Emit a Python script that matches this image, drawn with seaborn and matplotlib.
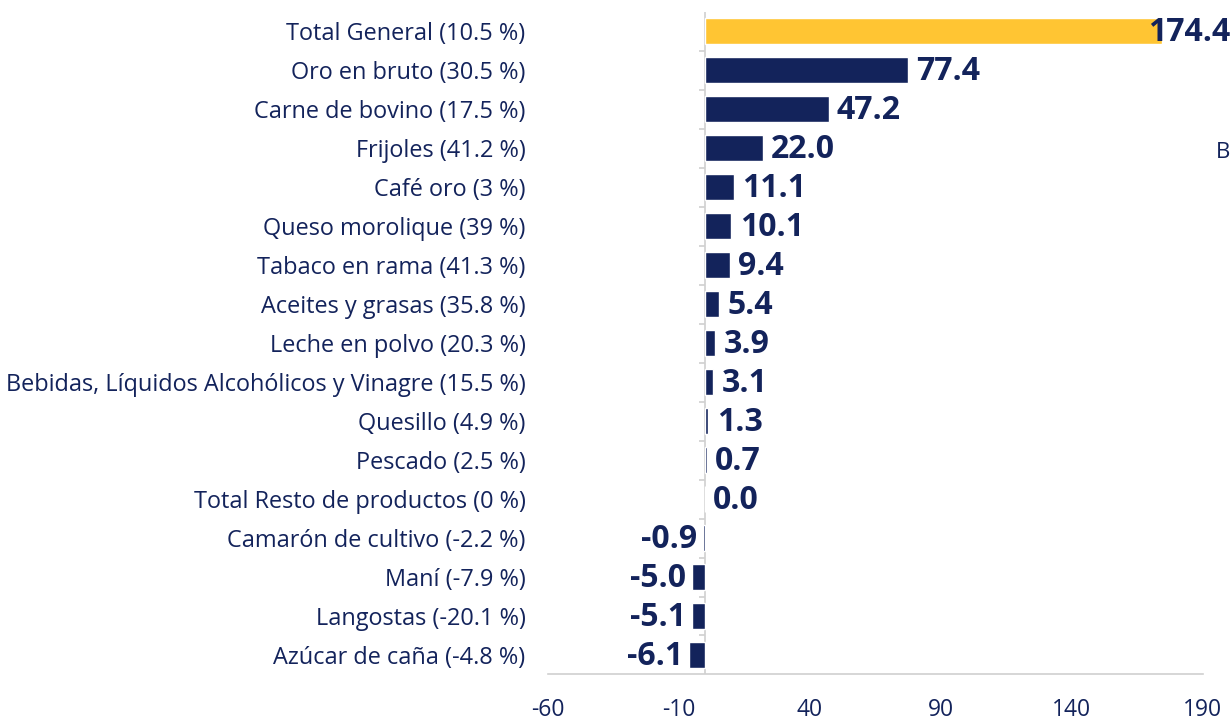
import numpy as np
import pandas as pd
import matplotlib
matplotlib.use("Agg")
import matplotlib.pyplot as plt
import seaborn as sns

categories = [
    "Total General (10.5 %)",
    "Oro en bruto (30.5 %)",
    "Carne de bovino (17.5 %)",
    "Frijoles (41.2 %)",
    "Café oro (3 %)",
    "Queso morolique (39 %)",
    "Tabaco en rama (41.3 %)",
    "Aceites y grasas (35.8 %)",
    "Leche en polvo (20.3 %)",
    "Bebidas, Líquidos Alcohólicos y Vinagre (15.5 %)",
    "Quesillo (4.9 %)",
    "Pescado (2.5 %)",
    "Total Resto de productos (0 %)",
    "Camarón de cultivo (-2.2 %)",
    "Maní (-7.9 %)",
    "Langostas (-20.1 %)",
    "Azúcar de caña (-4.8 %)",
]
values = [174.4, 77.4, 47.2, 22.0, 11.1, 10.1, 9.4, 5.4, 3.9, 3.1, 1.3, 0.7, 0.0,
          -0.9, -5.0, -5.1, -6.1]
xticks = [-60, -10, 40, 90, 140, 190]

navy = "#13235B"
gold = "#FFC533"
grey = "#D0D0D0"

df = pd.DataFrame({"cat": categories, "val": values})
colors = {c: (gold if i == 0 else navy) for i, c in enumerate(categories)}

sns.set_style("white")
plt.rcParams["font.family"] = ["Open Sans", "DejaVu Sans"]

fig = plt.figure(figsize=(12.31, 7.21), dpi=100)
ax = fig.add_axes([0.445, 0.0645, 0.532, 0.9195])

sns.barplot(data=df, x="val", y="cat", hue="cat", palette=colors, legend=False,
            width=0.67, orient="h", ax=ax, saturation=1)

ax.set_xlim(-60, 190)
ax.set_ylim(len(categories) - 0.5, -0.5)
ax.set_xticks(xticks)
ax.set_xticklabels([str(t) for t in xticks], fontsize=16.5, color=navy)
ax.tick_params(axis="x", length=8, width=1, color=grey, pad=9)
ax.tick_params(axis="y", length=0, pad=16, labelsize=16.9, labelcolor=navy)
ax.set_xlabel("")
ax.set_ylabel("")

for s in ["top", "right", "left"]:
    ax.spines[s].set_visible(False)
ax.spines["bottom"].set_color(grey)
ax.spines["bottom"].set_linewidth(1.2)

# vertical axis line at zero with category boundary ticks
ax.axvline(0, color=grey, lw=1.2, zorder=0.5)
bounds = np.arange(len(categories) - 1) + 0.5
ax.hlines(bounds, -2.3, 0, color=grey, lw=1.2, zorder=0.5)

for i, v in enumerate(values):
    lab = f"{v:.1f}"
    if i == 0:
        ax.annotate(lab, (v, i), xytext=(-10, -1), textcoords="offset points",
                    ha="left", va="center", fontsize=23, fontweight="bold",
                    color=navy, annotation_clip=False)
    elif v >= 0:
        ax.annotate(lab, (v, i), xytext=(6, -1), textcoords="offset points",
                    ha="left", va="center", fontsize=23, fontweight="bold",
                    color=navy)
    else:
        ax.annotate(lab, (v, i), xytext=(-4, -1), textcoords="offset points",
                    ha="right", va="center", fontsize=23, fontweight="bold",
                    color=navy)

fig.text(0.988, 0.789, "B", fontsize=16, color=navy, ha="left", va="center")

fig.savefig("out.png", dpi=100)
